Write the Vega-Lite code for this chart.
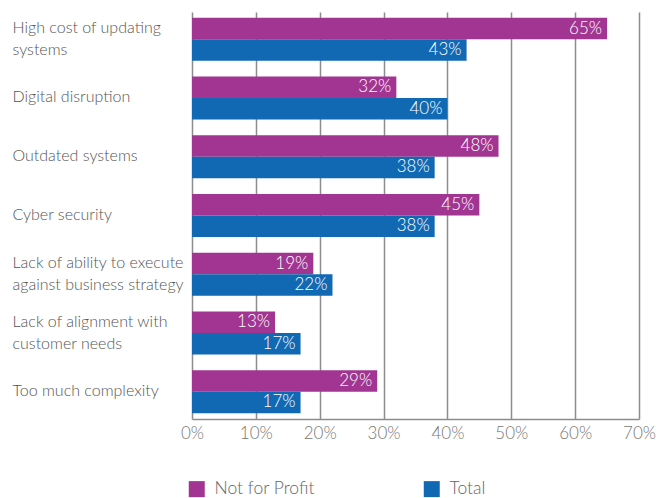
{
  "$schema": "https://vega.github.io/schema/vega-lite/v6.json",
  "width": 447,
  "height": 407,
  "autosize": {"type": "none"},
  "padding": {"left": 192, "top": 12, "right": 31, "bottom": 79},
  "background": "white",
  "config": {"view": {"stroke": null}, "font": "Lato"},
  "data": {
    "values": [
      {"category": "High cost of updating systems", "series": "Not for Profit", "value": 0.65},
      {"category": "High cost of updating systems", "series": "Total", "value": 0.43},
      {"category": "Digital disruption", "series": "Not for Profit", "value": 0.32},
      {"category": "Digital disruption", "series": "Total", "value": 0.40},
      {"category": "Outdated systems", "series": "Not for Profit", "value": 0.48},
      {"category": "Outdated systems", "series": "Total", "value": 0.38},
      {"category": "Cyber security", "series": "Not for Profit", "value": 0.45},
      {"category": "Cyber security", "series": "Total", "value": 0.38},
      {"category": "Lack of ability to execute against business strategy", "series": "Not for Profit", "value": 0.19},
      {"category": "Lack of ability to execute against business strategy", "series": "Total", "value": 0.22},
      {"category": "Lack of alignment with customer needs", "series": "Not for Profit", "value": 0.13},
      {"category": "Lack of alignment with customer needs", "series": "Total", "value": 0.17},
      {"category": "Too much complexity", "series": "Not for Profit", "value": 0.29},
      {"category": "Too much complexity", "series": "Total", "value": 0.17}
    ]
  },
  "encoding": {
    "y": {
      "field": "category",
      "type": "nominal",
      "sort": null,
      "scale": {"paddingInner": 0.27, "paddingOuter": 0.1},
      "axis": {
        "title": null,
        "domain": false,
        "ticks": false,
        "labelAlign": "left",
        "labelPadding": 180,
        "labelFontSize": 16,
        "labelFontWeight": 300,
        "labelColor": "#555555",
        "labelLineHeight": 22,
        "labelLimit": 220,
        "labelOffset": {
          "condition": {
            "test": "indexof(['High cost of updating systems', 'Lack of ability to execute against business strategy', 'Lack of alignment with customer needs'], datum.value) >= 0",
            "value": -11
          },
          "value": -1
        },
        "labelExpr": "datum.value == 'High cost of updating systems' ? ['High cost of updating', 'systems'] : datum.value == 'Lack of ability to execute against business strategy' ? ['Lack of ability to execute', 'against business strategy'] : datum.value == 'Lack of alignment with customer needs' ? ['Lack of alignment with', 'customer needs'] : datum.value"
      }
    },
    "yOffset": {"field": "series", "sort": ["Not for Profit", "Total"]},
    "x": {
      "field": "value",
      "type": "quantitative",
      "scale": {"domain": [0, 0.7], "nice": false},
      "axis": {
        "title": null,
        "format": ".0%",
        "values": [0, 0.1, 0.2, 0.3, 0.4, 0.5, 0.6, 0.7],
        "grid": true,
        "gridColor": "#8c8c91",
        "gridWidth": 1.5,
        "domainColor": "#8c8c91",
        "domainWidth": 1.5,
        "ticks": false,
        "labelFlush": false,
        "labelFontSize": 17,
        "labelFontWeight": 300,
        "labelColor": "#777777",
        "labelPadding": 6
      }
    }
  },
  "layer": [
    {
      "mark": {"type": "bar"},
      "encoding": {
        "color": {
          "field": "series",
          "type": "nominal",
          "scale": {"domain": ["Not for Profit", "Total"], "range": ["#A33592", "#1169B4"]},
          "legend": {
            "title": null,
            "orient": "none",
            "legendX": -4,
            "legendY": 468,
            "direction": "horizontal",
            "symbolType": "square",
            "symbolSize": 256,
            "symbolStrokeWidth": 0,
            "symbolOpacity": 1,
            "labelFontSize": 17.5,
            "labelFontWeight": 300,
            "labelColor": "#666666",
            "labelOffset": 9,
            "columnPadding": 108
          }
        }
      }
    },
    {
      "mark": {"type": "text", "align": "right", "baseline": "middle", "dx": -5, "color": "white", "fontSize": 17, "fontWeight": 300},
      "encoding": {
        "text": {"field": "value", "type": "quantitative", "format": ".0%"}
      }
    }
  ]
}
